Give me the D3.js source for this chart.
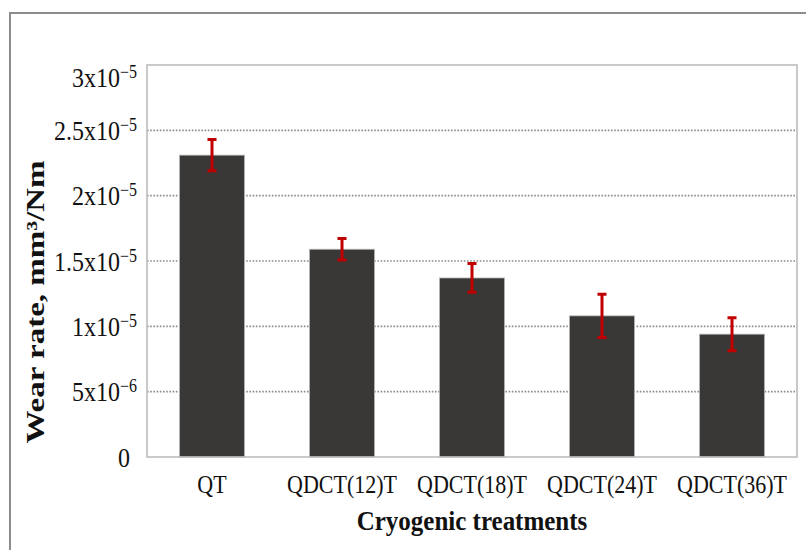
<!DOCTYPE html>
<html>
<head>
<meta charset="utf-8">
<script src="https://cdn.jsdelivr.net/npm/d3@7"></script>
<style>
  html, body { margin: 0; padding: 0; background: #fff; }
  svg { display: block; }
  text { font-family: "Liberation Serif", "Times New Roman", serif; fill: #111; }
</style>
</head>
<body>
<svg id="chart" width="806" height="550"></svg>
<script>
// Wear rate per treatment (mm^3/Nm) with standard deviation
const categories = ["QT", "QDCT(12)T", "QDCT(18)T", "QDCT(24)T", "QDCT(36)T"];
const wearRate = [2.31e-5, 1.59e-5, 1.37e-5, 1.08e-5, 0.94e-5];
const wearErr = [0.12e-5, 0.083e-5, 0.11e-5, 0.165e-5, 0.126e-5];

// y axis ticks, written as mantissa x 10^exponent
const yTicks = [0, 5e-6, 1e-5, 1.5e-5, 2e-5, 2.5e-5, 3e-5];
const tickBase = ["0", "5x10", "1x10", "1.5x10", "2x10", "2.5x10", "3x10"];
const tickPow = ["", "\u22126", "\u22125", "\u22125", "\u22125", "\u22125", "\u22125"];

const svg = d3.select("#chart");
const m = { left: 147, right: 797, top: 65, bottom: 457 };

const x = d3.scaleBand().domain(categories).range([m.left, m.right])
  .paddingInner(0.5).paddingOuter(0.25);
const y = d3.scaleLinear().domain([0, 3e-5]).range([m.bottom, m.top]);

// outer figure frame (top and left edges)
svg.append("path")
  .attr("d", `M10,550 V13 H806`)
  .attr("fill", "none").attr("stroke", "#8c8c8c").attr("stroke-width", 2);

// dotted horizontal gridlines
svg.append("g").selectAll("line")
  .data(yTicks.filter(v => v > 0 && v < 3e-5))
  .join("line")
  .attr("x1", m.left).attr("x2", m.right)
  .attr("y1", d => y(d)).attr("y2", d => y(d))
  .attr("stroke", "#8a8a8a").attr("stroke-width", 1.6)
  .attr("stroke-dasharray", "1.6,1.6");

// bars
svg.append("g").selectAll("rect")
  .data(categories)
  .join("rect")
  .attr("x", d => x(d))
  .attr("width", x.bandwidth())
  .attr("y", (d, i) => y(wearRate[i]))
  .attr("height", (d, i) => y(0) - y(wearRate[i]))
  .attr("fill", "#3a3836")
  .attr("stroke", "#b5b5b5").attr("stroke-width", 0.8);

// plot area border
svg.append("rect")
  .attr("x", m.left).attr("y", m.top)
  .attr("width", m.right - m.left).attr("height", m.bottom - m.top)
  .attr("fill", "none").attr("stroke", "#bcbcbc").attr("stroke-width", 1.6);

// error bars
const eb = svg.append("g").attr("stroke", "#c00000").attr("stroke-width", 3).attr("fill", "none");
const cx = d => x(d) + x.bandwidth() / 2;
eb.selectAll("path")
  .data(categories)
  .join("path")
  .attr("d", (d, i) => {
    const c = cx(d), t = y(wearRate[i] + wearErr[i]), b = y(wearRate[i] - wearErr[i]);
    return `M${c - 4.5},${t} H${c + 4.5} M${c},${t} V${b} M${c - 4.5},${b} H${c + 4.5}`;
  });

// y axis labels
const yAxis = svg.append("g")
  .attr("transform", `translate(${m.left - 10},0)`)
  .call(d3.axisLeft(y).tickValues(yTicks).tickSize(0).tickFormat((d, i) => tickBase[i]));
yAxis.select(".domain").remove();
yAxis.selectAll(".tick")
  .attr("transform", d => `translate(0,${Math.max(y(d), m.top + 12)})`);
yAxis.selectAll("text")
  .attr("x", 0).attr("dy", "0.36em")
  .attr("transform", "scale(1,1.12)")
  .attr("y", 0)
  .style("font-family", "'Liberation Serif', serif")
  .style("font-size", "24px").attr("fill", "#111")
  .each(function (d, i) {
    if (tickPow[i]) {
      d3.select(this).append("tspan")
        .attr("dy", "-0.5em").style("font-size", "16px").text(tickPow[i]);
    } else {
      d3.select(this).attr("dx", "-7");
    }
  });

// x axis labels
const xAxis = svg.append("g")
  .attr("transform", `translate(0,${m.bottom})`)
  .call(d3.axisBottom(x).tickSize(0));
xAxis.select(".domain").remove();
xAxis.selectAll("text")
  .attr("y", 0).attr("dy", 0)
  .attr("transform", "translate(0,36) scale(1,1.1)")
  .style("font-family", "'Liberation Serif', serif")
  .style("font-size", "22px").attr("fill", "#111");

// axis titles
svg.append("text")
  .attr("transform", `translate(${(m.left + m.right) / 2},530) scale(1,1.08)`)
  .attr("text-anchor", "middle")
  .style("font-size", "25px").style("font-weight", "bold")
  .text("Cryogenic treatments");

svg.append("text")
  .attr("transform", `translate(44,302) rotate(-90) scale(1.32,1)`)
  .attr("text-anchor", "middle")
  .style("font-size", "25px").style("font-weight", "bold")
  .text("Wear rate, mm\u00B3/Nm");
</script>
</body>
</html>
